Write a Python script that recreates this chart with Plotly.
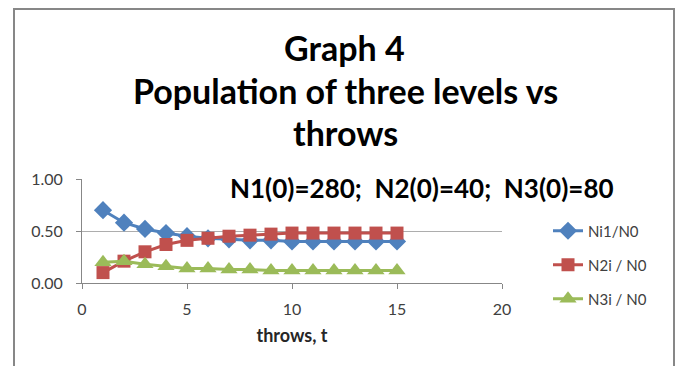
import plotly.graph_objects as go

# Throw number and normalised level populations
throws = list(range(1, 16))
n1_ratio = [0.70, 0.58, 0.52, 0.48, 0.45, 0.43, 0.42, 0.41, 0.41, 0.40, 0.40, 0.40, 0.40, 0.40, 0.40]
n2_ratio = [0.10, 0.21, 0.30, 0.37, 0.41, 0.43, 0.45, 0.46, 0.47, 0.48, 0.48, 0.48, 0.48, 0.48, 0.48]
n3_ratio = [0.20, 0.21, 0.18, 0.16, 0.14, 0.14, 0.13, 0.13, 0.12, 0.12, 0.12, 0.12, 0.12, 0.12, 0.12]

series_names = ["Ni1/N0", "N2i / N0", "N3i / N0"]
x_ticks = [0, 5, 10, 15, 20]
y_ticks = [0.0, 0.5, 1.0]

FONT = "Lato"
TEXT = "#262626"
TICK = "#404040"

W, H = 678, 366
L, R, T, B = 82, 176, 179, 83
PW, PH = W - L - R, H - T - B


def px(x):
    return (x - L) / PW


def py(y):
    return (H - B - y) / PH


fig = go.Figure()
styles = [
    ("#4F81BD", "diamond", 14, n1_ratio),
    ("#C0504D", "square", 13, n2_ratio),
    ("#9BBB59", "triangle-up", 15, n3_ratio),
]
legends = ["legend", "legend2", "legend3"]
for (color, sym, size, vals), name, lg in zip(styles, series_names, legends):
    fig.add_trace(go.Scatter(
        x=throws, y=vals, name=name, mode="lines+markers",
        line=dict(color=color, width=3),
        marker=dict(symbol=sym, size=size, color=color, line=dict(width=0)),
        legend=lg,
    ))

legend_common = dict(
    font=dict(family=FONT, size=15, color=TICK),
    bgcolor="rgba(0,0,0,0)", xanchor="left", yanchor="middle",
    itemwidth=30,
)
for lg, ypix in zip(legends, [231, 265, 299]):
    fig.update_layout({lg: dict(x=px(548), y=py(ypix), **legend_common)})

fig.update_xaxes(
    range=[0, 20], tickvals=x_ticks, ticktext=[str(v) for v in x_ticks],
    showgrid=False, zeroline=False,
    showline=True, linecolor="#878787", linewidth=1,
    ticks="outside", ticklen=5, tickcolor="#878787",
    tickfont=dict(family=FONT, size=16, color=TICK),
    ticklabelstandoff=7,
    title=dict(text="<b>throws, t</b>", font=dict(family=FONT, size=18, color=TEXT), standoff=12),
)
fig.update_yaxes(
    range=[0, 1], tickvals=y_ticks, ticktext=[f"{v:.2f}" for v in y_ticks],
    showgrid=True, gridcolor="#ADADAD", gridwidth=1, zeroline=False,
    showline=True, linecolor="#878787", linewidth=1,
    ticks="outside", ticklen=5, tickcolor="#878787",
    tickfont=dict(family=FONT, size=16, color=TICK),
    ticklabelstandoff=10,
)

annotations = [
    dict(text="<b>Graph 4</b>", x=px(344), y=py(47), size=34),
    dict(text="<b>Population of three levels vs</b>", x=px(345), y=py(91), size=34),
    dict(text="<b>throws</b>", x=px(345), y=py(132), size=34),
    dict(text="<b>N1(0)=280;  N2(0)=40;  N3(0)=80</b>", x=px(422), y=py(188), size=26),
]
for a in annotations:
    fig.add_annotation(
        text=a["text"], x=a["x"], y=a["y"], xref="paper", yref="paper",
        xanchor="center", yanchor="middle", showarrow=False,
        font=dict(family=FONT, size=a["size"], color="#000000"),
    )

# chart frame
fig.add_shape(
    type="rect", xref="paper", yref="paper",
    x0=px(14), x1=px(674), y0=py(380), y1=py(9),
    line=dict(color="#878787", width=2), fillcolor="rgba(0,0,0,0)", layer="below",
)

fig.update_layout(
    width=W, height=H,
    margin=dict(l=L, r=R, t=T, b=B),
    paper_bgcolor="white", plot_bgcolor="white",
    showlegend=True,
)

fig.write_html("out.html")
